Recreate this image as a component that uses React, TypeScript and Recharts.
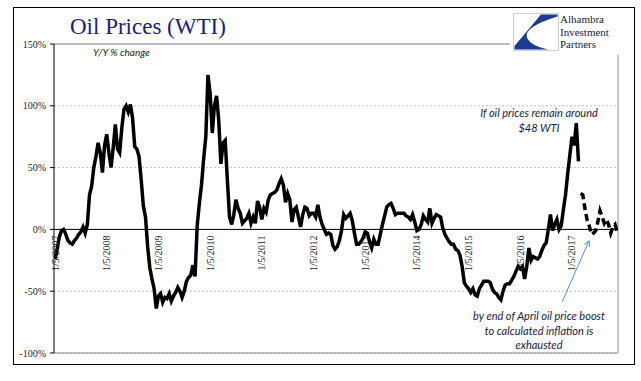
import React from 'react';
import { LineChart, Line, XAxis, YAxis, CartesianGrid, ReferenceLine, ReferenceDot } from 'recharts';

// Y/Y % change of WTI oil price, semi-monthly readings (24 per year)
const years = [2007, 2008, 2009, 2010, 2011, 2012, 2013, 2014, 2015, 2016, 2017];
const v2007 = [-24, -16, -6, -1, 0, -4, -9, -11, -12, -9, -7, -4, -2, 2, -3, 4, 28, 35, 50, 59, 70, 62, 46, 68];
const v2008 = [77, 62, 50, 66, 85, 65, 62, 82, 97, 100, 95, 101, 90, 67, 65, 59, 40, 19, 10, -14, -31, -40, -48, -64];
const v2009 = [-54, -52, -59, -55, -56, -52, -58, -54, -51, -47, -50, -55, -50, -42, -39, -37, -29, -38, 3, 21, 36, 57, 75, 125];
const v2010 = [110, 78, 100, 108, 88, 53, 70, 72, 40, 10, 4, 12, 24, 17, 13, 5, 7, 9, 13, 5, 10, 5, 23, 18];
const v2011 = [8, 17, 14, 24, 28, 29, 30, 32, 37, 41, 36, 22, 29, 24, 6, 16, 18, 10, 2, 12, 18, 17, 11, 13];
const v2012 = [13, 10, 20, 10, 4, 0, -4, -3, -4, -13, -16, -14, -9, -1, 12, 9, 11, 13, 7, -3, -12, -12, -10, -7];
const v2013 = [-2, -3, -10, -15, -8, -12, -12, -4, 4, 11, 18, 20, 21, 17, 12, 13, 13, 13, 13, 11, 10, 8, 12, 6];
const v2014 = [-1, 0, 4, 11, 8, 6, 17, 5, 9, 12, 11, 10, 1, -4, -7, -10, -12, -12, -16, -17, -21, -30, -43, -46];
const v2015 = [-48, -51, -48, -53, -54, -48, -45, -42, -42, -42, -43, -48, -51, -52, -55, -57, -50, -45, -44, -44, -41, -38, -34, -30];
const v2016 = [-32, -30, -40, -30, -15, -25, -22, -23, -24, -22, -17, -13, -11, 0, 12, -1, 4, 8, 0, 3, 16, 28, 45, 60];
const v2017 = [75, 68, 86, 55];
const actualByYear = [v2007, v2008, v2009, v2010, v2011, v2012, v2013, v2014, v2015, v2016, v2017];

// projection if oil stays around $48 (dashed), starting at 2017 period index 4
const projStart = 4;
const proj2017 = [29, 28, 17, 8, 3, -4, -3, -1, 6, 15, 10, 5, 8, 4, -3, 2, 4, -2];

const yTicks = [-100, -50, 0, 50, 100, 150];
const xTickYears = [2007, 2008, 2009, 2010, 2011, 2012, 2013, 2014, 2015, 2016, 2017];
const xTickLabels = xTickYears.map((y) => `1/5/${y}`);

const actualData = actualByYear.flatMap((vals, k) => vals.map((v, i) => ({ t: years[k] + i / 24, v })));
const projData = proj2017.map((v, i) => ({ t: 2017 + (projStart + i) / 24, v }));

const arrowFrom = { t: 2016.81, v: -58.6 };
const arrowTo = { t: 2017.33, v: -9.2 };

const serif = '"Liberation Serif", "Times New Roman", serif';
const italicSans = 'Lato, "Liberation Sans", sans-serif';

const ArrowShape = (p: any) => {
  const { x1, y1, x2, y2 } = p;
  if ([x1, y1, x2, y2].some((n) => typeof n !== 'number')) return <g />;
  const ang = Math.atan2(y2 - y1, x2 - x1);
  const len = 6;
  const w1 = ang + Math.PI - 0.5;
  const w2 = ang + Math.PI + 0.5;
  const pts = `${x2 + len * Math.cos(w1)},${y2 + len * Math.sin(w1)} ${x2},${y2} ${x2 + len * Math.cos(w2)},${y2 + len * Math.sin(w2)}`;
  return (
    <g>
      <line x1={x1} y1={y1} x2={x2} y2={y2} stroke="#5b8ad0" strokeWidth={1} />
      <polyline points={pts} fill="none" stroke="#5b8ad0" strokeWidth={1} />
    </g>
  );
};

export default function App() {
  return (
    <div style={{ position: 'absolute', left: 0, top: 0, width: 641, height: 381, background: '#fff' }}>
      <div style={{ position: 'absolute', left: 0, top: 0 }}>
        <LineChart width={641} height={381} margin={{ top: 44, right: 23, bottom: 28, left: 4 }}>
          <CartesianGrid vertical={false} stroke="#c4c4c4" strokeDasharray="2 2" />
          <XAxis dataKey="t" type="number" domain={[2006.98, 2017.89]} hide allowDataOverflow />
          <YAxis
            type="number"
            domain={[-100, 150]}
            ticks={yTicks}
            width={50}
            tickFormatter={(v: number) => `${v}%`}
            tick={{ fontFamily: serif, fontSize: 10, fill: '#222' }}
            axisLine={{ stroke: '#000' }}
            tickLine={{ stroke: '#000' }}
            tickSize={4}
            tickMargin={4}
            allowDataOverflow
          />
          <ReferenceLine y={150} stroke="#8c8c8c" />
          <ReferenceLine y={-100} stroke="#8c8c8c" />
          <ReferenceLine x={2017.89} stroke="#8c8c8c" />
          <ReferenceLine y={0} stroke="#000" />
          {xTickYears.map((yr, i) => (
            <ReferenceDot
              key={yr}
              x={yr}
              y={0}
              r={1}
              shape={(p: any) => (
                <text
                  x={p.cx}
                  y={p.cy + 6}
                  transform={`rotate(-90 ${p.cx} ${p.cy + 6})`}
                  textAnchor="end"
                  dominantBaseline="central"
                  fontFamily={serif}
                  fontSize={10}
                  fill="#222"
                >
                  {xTickLabels[i]}
                </text>
              )}
            />
          ))}
          <ReferenceLine
            segment={[{ x: arrowFrom.t, y: arrowFrom.v }, { x: arrowTo.t, y: arrowTo.v }]}
            shape={ArrowShape}
          />
          <Line data={actualData} dataKey="v" type="linear" stroke="#000" strokeWidth={3.5} dot={false} isAnimationActive={false} />
          <Line data={projData} dataKey="v" type="linear" stroke="#000" strokeWidth={3.5} strokeDasharray="7 4" dot={false} isAnimationActive={false} />
        </LineChart>
      </div>
      <svg width={641} height={381} style={{ position: 'absolute', left: 0, top: 0, pointerEvents: 'none' }}>
        <rect x={13.5} y={7.5} width={621} height={357} fill="none" stroke="#000" strokeWidth={1} />
        <text x={70} y={34} fontFamily={serif} fontSize={23} fill="#1c1c80">Oil Prices (WTI)</text>
        <text x={93} y={56} fontFamily={italicSans} fontStyle="italic" fontSize={10} fill="#222">Y/Y % change</text>
        <g fontFamily={italicSans} fontStyle="italic" fontSize={11} fill="#1a1a3a" textAnchor="middle">
          <text x={539} y={117}>If oil prices remain around</text>
          <text x={539} y={132}>$48 WTI</text>
          <text x={539} y={320}>by end of April oil price boost</text>
          <text x={539} y={335}>to calculated inflation is</text>
          <text x={539} y={349}>exhausted</text>
        </g>
        <rect x={510} y={9} width={123} height={46} fill="#fff" />
        <rect x={513.5} y={13.5} width={45} height={37} fill="#fff" stroke="#cfcfcf" />
        <path d="M541 14.5 L557.5 14.5 L557.5 16.5 Q523 27 527 38 Q531 46 548 49.5 L514.5 49.5 L514.5 46 Z" fill="#1b3a94" />
        <g fontFamily={serif} fontSize={11} fill="#1c1c3c" textLength={undefined}>
          <text x={560} y={23}>Alhambra</text>
          <text x={560} y={35.5}>Investment</text>
          <text x={560} y={48}>Partners</text>
        </g>
      </svg>
    </div>
  );
}
